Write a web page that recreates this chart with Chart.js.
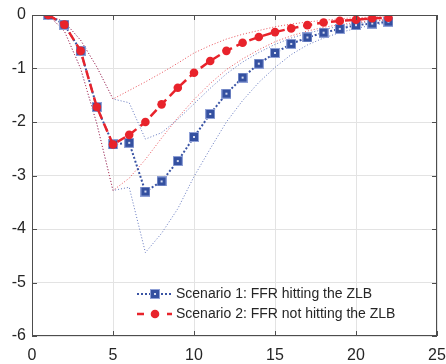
<!DOCTYPE html>
<html>
<head>
<meta charset="utf-8">
<script src="https://cdn.jsdelivr.net/npm/chart.js@4.4.0/dist/chart.umd.min.js"></script>
<style>
  html, body { margin: 0; padding: 0; background: #fff; }
  canvas { display: block; }
</style>
</head>
<body>
<canvas id="irfChart" width="446" height="364"></canvas>
<script>
// horizons
const horizons = [1, 2, 3, 4, 5, 6, 7, 8, 9, 10, 11, 12, 13, 14, 15, 16, 17, 18, 19, 20, 21, 22];

// scenario 1: FFR hitting the ZLB
const s1Mean  = [0, -0.18, -0.67, -1.72, -2.42, -2.39, -3.30, -3.11, -2.73, -2.28, -1.85, -1.47, -1.17, -0.91, -0.71, -0.54, -0.42, -0.33, -0.26, -0.19, -0.16, -0.125];
const s1Upper = [0, -0.13, -0.47, -0.97, -1.57, -1.64, -2.32, -2.20, -1.95, -1.66, -1.37, -1.10, -0.88, -0.70, -0.55, -0.43, -0.34, -0.27, -0.21, -0.16, -0.12, -0.09];
const s1Lower = [0, -0.30, -1.00, -2.03, -3.28, -3.22, -4.44, -4.08, -3.62, -3.02, -2.50, -2.00, -1.60, -1.26, -0.98, -0.74, -0.56, -0.43, -0.33, -0.25, -0.19, -0.15];

// scenario 2: FFR not hitting the ZLB
const s2Mean  = [0, -0.18, -0.67, -1.72, -2.42, -2.24, -2.00, -1.67, -1.36, -1.08, -0.86, -0.67, -0.52, -0.41, -0.32, -0.25, -0.19, -0.14, -0.11, -0.09, -0.06, -0.05];
const s2Upper = [0, -0.13, -0.47, -0.97, -1.57, -1.41, -1.25, -1.08, -0.90, -0.71, -0.57, -0.45, -0.36, -0.29, -0.22, -0.17, -0.13, -0.10, -0.07, -0.05, -0.04, -0.03];
const s2Lower = [0, -0.30, -1.00, -2.03, -3.28, -3.05, -2.70, -2.30, -1.92, -1.58, -1.28, -1.02, -0.82, -0.65, -0.50, -0.39, -0.30, -0.23, -0.18, -0.14, -0.11, -0.08];

const legendLabels = ['Scenario 1: FFR hitting the ZLB', 'Scenario 2: FFR not hitting the ZLB'];

const BLUE = '#3953a4';
const RED = '#e8232b';
const FONT = '"Liberation Sans", Arial, sans-serif';

const pts = arr => arr.map((v, i) => ({ x: horizons[i], y: v }));

// square marker with light rim and speck, like the matlab one
const sq = document.createElement('canvas');
sq.width = 10; sq.height = 10;
(() => {
    const c = sq.getContext('2d');
    c.fillStyle = '#8fa0d6'; c.fillRect(0, 0, 10, 10);
    c.fillStyle = '#3450a0'; c.fillRect(1, 1, 8, 8);
    c.fillStyle = '#d4dbf0'; c.fillRect(4, 4, 2, 2);
})();

// box + inward ticks + legend
const matlabBox = {
    id: 'matlabBox',
    afterDraw(chart) {
        const { ctx, chartArea: a, scales } = chart;
        ctx.save();
        ctx.strokeStyle = '#4d4d4d';
        ctx.lineWidth = 1;
        ctx.strokeRect(a.left + 0.5, a.top + 0.5, a.right - a.left - 1, a.bottom - a.top - 1);
        ctx.beginPath();
        scales.x.ticks.forEach(t => {
            const px = Math.round(scales.x.getPixelForValue(t.value)) + 0.5;
            ctx.moveTo(px, a.bottom); ctx.lineTo(px, a.bottom - 5);
            ctx.moveTo(px, a.top); ctx.lineTo(px, a.top + 5);
        });
        scales.y.ticks.forEach(t => {
            const py = Math.round(scales.y.getPixelForValue(t.value)) + 0.5;
            ctx.moveTo(a.left, py); ctx.lineTo(a.left + 5, py);
            ctx.moveTo(a.right, py); ctx.lineTo(a.right - 5, py);
        });
        ctx.stroke();

        // legend
        const lx0 = 137, lx1 = 172, mx = 155;
        const rows = [294, 314];
        ctx.lineWidth = 2;
        ctx.strokeStyle = BLUE;
        ctx.setLineDash([2, 2]);
        ctx.beginPath(); ctx.moveTo(lx0, rows[0]); ctx.lineTo(lx1, rows[0]); ctx.stroke();
        ctx.drawImage(sq, mx - 5, rows[0] - 5);
        ctx.lineWidth = 2.5;
        ctx.strokeStyle = RED;
        ctx.setLineDash([7, 23]);
        ctx.beginPath(); ctx.moveTo(lx0, rows[1]); ctx.lineTo(lx1, rows[1]); ctx.stroke();
        ctx.setLineDash([]);
        ctx.fillStyle = RED;
        ctx.beginPath(); ctx.arc(mx, rows[1], 4.3, 0, Math.PI * 2); ctx.fill();
        ctx.fillStyle = '#262626';
        ctx.font = '14px ' + FONT;
        ctx.textBaseline = 'middle';
        ctx.fillText(legendLabels[0], 176, rows[0]);
        ctx.fillText(legendLabels[1], 176, rows[1]);
        ctx.restore();
    }
};

const bandStyle = color => ({
    borderColor: color,
    borderWidth: 1,
    borderDash: [1, 2],
    pointRadius: 0,
    fill: false,
    tension: 0
});

const ctx = document.getElementById('irfChart').getContext('2d');
const irfChart = new Chart(ctx, {
    type: 'line',
    data: {
        datasets: [
            {
                label: legendLabels[1],
                data: pts(s2Mean),
                borderColor: RED,
                borderWidth: 2.5,
                borderDash: [9, 5],
                pointStyle: 'circle',
                pointRadius: 4.3,
                pointBorderWidth: 0,
                pointBackgroundColor: RED,
                tension: 0,
                order: 0
            },
            {
                label: legendLabels[0],
                data: pts(s1Mean),
                borderColor: BLUE,
                borderWidth: 2,
                borderDash: [2, 2],
                pointStyle: sq,
                pointRadius: 5,
                tension: 0,
                order: 1
            },
            Object.assign({ label: 's2 upper', data: pts(s2Upper), order: 2 }, bandStyle('rgba(228,40,50,0.8)')),
            Object.assign({ label: 's2 lower', data: pts(s2Lower), order: 2 }, bandStyle('rgba(228,40,50,0.8)')),
            Object.assign({ label: 's1 upper', data: pts(s1Upper), order: 3 }, bandStyle('rgba(60,85,175,0.8)')),
            Object.assign({ label: 's1 lower', data: pts(s1Lower), order: 3 }, bandStyle('rgba(60,85,175,0.8)'))
        ]
    },
    options: {
        responsive: false,
        animation: false,
        layout: { padding: { top: 15, right: 9, left: 0, bottom: 0 } },
        plugins: { legend: { display: false }, tooltip: { enabled: false } },
        scales: {
            x: {
                type: 'linear',
                min: 0,
                max: 25,
                ticks: { stepSize: 5, color: '#262626', font: { family: FONT, size: 16 }, padding: 10, maxRotation: 0 },
                grid: { color: '#e3e3e3', drawTicks: false },
                border: { display: false },
                afterFit: s => { s.height = 28; s.paddingLeft = 0; s.paddingRight = 0; }
            },
            y: {
                min: -6,
                max: 0,
                ticks: { stepSize: 1, color: '#262626', font: { family: FONT, size: 16 }, padding: 6 },
                grid: { color: '#e3e3e3', drawTicks: false },
                border: { display: false },
                afterFit: s => { s.width = 32; s.paddingTop = 0; s.paddingBottom = 0; }
            }
        }
    },
    plugins: [matlabBox]
});
</script>
</body>
</html>
